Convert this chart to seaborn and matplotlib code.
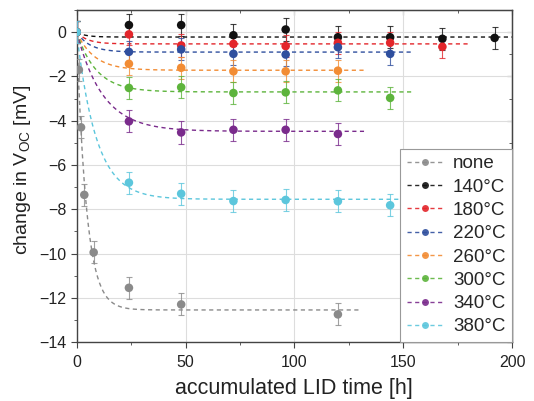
import numpy as np
import pandas as pd
import matplotlib
matplotlib.use("Agg")
import matplotlib.pyplot as plt
import seaborn as sns
from matplotlib.ticker import MultipleLocator
from matplotlib.lines import Line2D

sns.set_style("whitegrid")
plt.rcParams['font.family'] = ['Liberation Sans', 'DejaVu Sans']
plt.rcParams['mathtext.fontset'] = 'custom'
plt.rcParams['mathtext.rm'] = 'Liberation Sans'

labels = ["none", "140°C", "180°C", "220°C", "260°C", "300°C", "340°C", "380°C"]
colors = ["#8a8a8a", "#111111", "#e3262b", "#2f4f9e", "#f28c34", "#5db43c", "#7a2b8c", "#5cc6dc"]

t_none = [0, 1, 2, 3.5, 7.8, 24, 48, 120]
v_none = [0, -1.7, -4.3, -7.35, -9.95, -11.55, -12.3, -12.75]
t_140 = [0, 24, 48, 72, 96, 120, 144, 168, 192]
v_140 = [0, 0.32, 0.32, -0.14, 0.12, -0.23, -0.23, -0.30, -0.26]
t_180 = [0, 24, 48, 72, 96, 120, 144, 168]
v_180 = [0, -0.1, -0.6, -0.53, -0.63, -0.48, -0.48, -0.66]
t_220 = [0, 24, 48, 72, 96, 120, 144]
v_220 = [0, -0.89, -0.78, -0.98, -1.01, -0.68, -0.98]
t_260 = [0, 24, 48, 72, 96, 120]
v_260 = [0, -1.43, -1.61, -1.77, -1.77, -1.74]
t_300 = [0, 24, 48, 72, 96, 120, 144]
v_300 = [0, -2.52, -2.49, -2.75, -2.72, -2.63, -2.97]
t_340 = [0, 24, 48, 72, 96, 120]
v_340 = [0, -4.03, -4.53, -4.41, -4.41, -4.6]
t_380 = [0, 24, 48, 72, 96, 120, 144]
v_380 = [0, -6.8, -7.3, -7.63, -7.58, -7.64, -7.82]
err = 0.5

# fit parameters (plateau, time constant, end of fit line)
fit_plateau = [-12.55, -0.22, -0.53, -0.9, -1.72, -2.7, -4.48, -7.55]
fit_tau = [4.5, 4, 5, 6, 8, 9, 12, 9]
fit_end = [130, 200, 180, 155, 132, 155, 132, 155]

ts = [t_none, t_140, t_180, t_220, t_260, t_300, t_340, t_380]
vs = [v_none, v_140, v_180, v_220, v_260, v_300, v_340, v_380]

fig = plt.figure(figsize=(5.34, 4.01), dpi=100)
ax = fig.add_axes([0.1436, 0.147, 0.8153, 0.828])

fit_rows = []
for lab, A, tau, te in zip(labels, fit_plateau, fit_tau, fit_end):
    tt = np.linspace(0, te, 300)
    for a, b in zip(tt, A * (1 - np.exp(-tt / tau))):
        fit_rows.append((lab, a, b))
fit_df = pd.DataFrame(fit_rows, columns=["series", "t", "v"])

sns.lineplot(data=fit_df, x="t", y="v", hue="series", hue_order=labels,
             palette=colors, ax=ax, legend=False, lw=1.0, dashes=False,
             linestyle=(0, (3, 2.5)), estimator=None, sort=False)

pts = pd.DataFrame([(lab, a, b) for lab, t, v in zip(labels, ts, vs) for a, b in zip(t, v)],
                   columns=["series", "t", "v"])
for lab, c in zip(labels, colors):
    d = pts[pts.series == lab]
    ax.errorbar(d.t, d.v, yerr=err, fmt='none', ecolor=c, elinewidth=0.8,
                capsize=2.5, capthick=0.8, alpha=0.8, zorder=3)
sns.scatterplot(data=pts, x="t", y="v", hue="series", hue_order=labels,
                palette=colors, ax=ax, legend=False, s=38, edgecolor='none', zorder=4)

ax.set_xlim(0, 200)
ax.set_ylim(-14, 1)
ax.xaxis.set_major_locator(MultipleLocator(50))
ax.xaxis.set_minor_locator(MultipleLocator(25))
ax.yaxis.set_major_locator(MultipleLocator(2))
ax.yaxis.set_minor_locator(MultipleLocator(1))
ax.grid(True, which='major', color='#dddddd', lw=0.8)
ax.grid(False, which='minor')
for s in ax.spines.values():
    s.set_color('#444444')
    s.set_linewidth(1.0)
ax.tick_params(which='both', direction='out', colors='#444444', labelcolor='#222222',
               labelsize=11.5, left=True, bottom=True)
ax.tick_params(which='major', length=4)
ax.tick_params(which='minor', length=2.5)
ax.tick_params(axis='x', which='major', pad=5)
sx = ax.secondary_xaxis('top')
sx.xaxis.set_major_locator(MultipleLocator(50))
sx.xaxis.set_minor_locator(MultipleLocator(25))
sx.tick_params(which='both', direction='in', labeltop=False, colors='#444444')
sy = ax.secondary_yaxis('right')
sy.yaxis.set_major_locator(MultipleLocator(2))
sy.yaxis.set_minor_locator(MultipleLocator(1))
sy.tick_params(which='both', direction='in', labelright=False, colors='#444444')
for s in list(sx.spines.values()) + list(sy.spines.values()):
    s.set_color('#444444')

ax.set_xlabel("accumulated LID time [h]", fontsize=15.5, color='#222222', labelpad=6)
ax.set_ylabel(r"change in V$_\mathregular{OC}$ [mV]", fontsize=14, color='#222222')
ax.yaxis.set_label_coords(-0.1, 0.52)

handles = [Line2D([0], [0], color=c, lw=1.0, linestyle=(0, (3, 2.5)), marker='o',
                  markersize=5, markeredgewidth=0, alpha=0.9) for c in colors]
leg = ax.legend(handles, labels, loc='lower right', borderaxespad=0, fontsize=13.5,
                frameon=True, fancybox=False, edgecolor='#999999', framealpha=1,
                handlelength=1.9, labelspacing=0.33, borderpad=0.35, handletextpad=0.55)
leg.get_frame().set_linewidth(0.8)

fig.savefig("out.png", dpi=100)
